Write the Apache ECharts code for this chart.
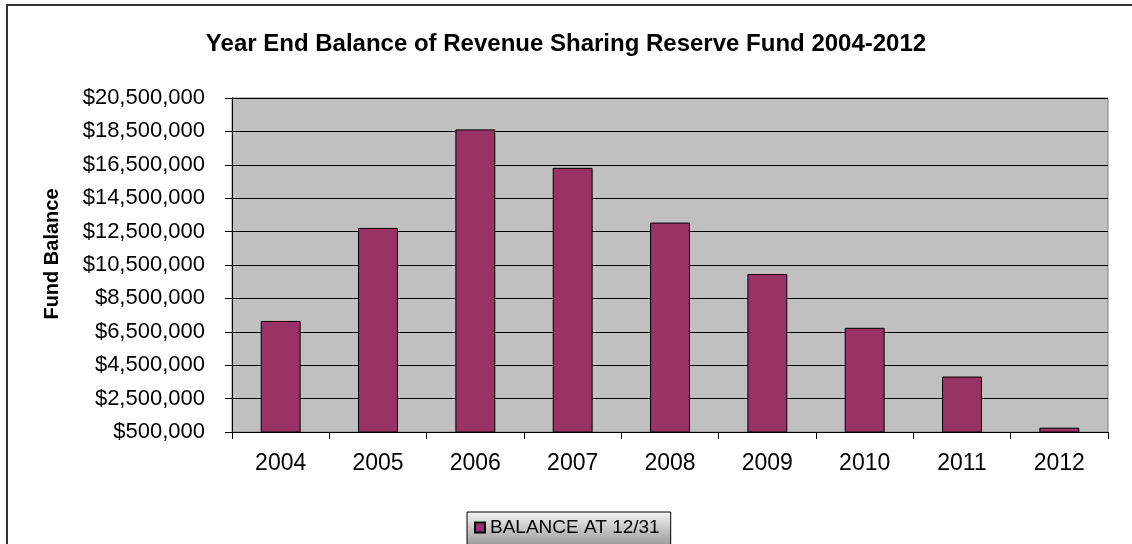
<!DOCTYPE html>
<html>
<head>
<meta charset="utf-8">
<script src="https://cdn.jsdelivr.net/npm/echarts@6/dist/echarts.min.js"></script>
<style>
  html, body { margin: 0; padding: 0; background: #fff; }
  #chart { width: 1132px; height: 544px; }
</style>
</head>
<body>
<div id="chart"></div>
<script>
// Year-end balances of the revenue sharing reserve fund
const years = ['2004', '2005', '2006', '2007', '2008', '2009', '2010', '2011', '2012'];
const balances = [7150000, 12720000, 18620000, 16320000, 13040000, 9960000, 6740000, 3820000, 760000];
const seriesName = 'BALANCE AT 12/31';
const yMin = 500000;
const yMax = 20500000;
const yStep = 2000000;

const FONT = '"Liberation Sans", Arial, sans-serif';

function money(v) {
  return '$' + Math.round(v).toString().replace(/\B(?=(\d{3})+(?!\d))/g, ',');
}

const chart = echarts.init(document.getElementById('chart'), null, { renderer: 'canvas' });

chart.setOption({
  animation: false,
  backgroundColor: '#ffffff',
  textStyle: { fontFamily: FONT },
  graphic: [{
    type: 'rect',
    silent: true,
    z: -10,
    shape: { x: 7, y: 5, width: 1300, height: 700 },
    style: { fill: 'none', stroke: '#333333', lineWidth: 2 }
  }],
  title: {
    text: 'Year End Balance of Revenue Sharing Reserve Fund 2004-2012',
    left: 'center',
    top: 27,
    textStyle: { fontFamily: FONT, fontSize: 24, fontWeight: 'bold', color: '#000' }
  },
  legend: {
    left: 467,
    top: 512,
    padding: [6, 11, 8, 7],
    itemWidth: 10,
    itemHeight: 10,
    icon: 'rect',
    borderColor: '#000',
    borderWidth: 1,
    backgroundColor: {
      type: 'linear', x: 0, y: 0, x2: 0, y2: 1,
      colorStops: [
        { offset: 0, color: '#f4f4f4' },
        { offset: 1, color: '#9a9a9a' }
      ]
    },
    textStyle: { fontFamily: FONT, fontSize: 19, color: '#000' },
    data: [seriesName]
  },
  grid: {
    left: 232,
    right: 24,
    top: 98,
    bottom: 112,
    show: true,
    backgroundColor: '#c0c0c0',
    borderColor: '#808080',
    borderWidth: 1
  },
  xAxis: {
    type: 'category',
    data: years,
    axisLine: { lineStyle: { color: '#000', width: 1 } },
    axisTick: { show: true, length: 7, lineStyle: { color: '#000' } },
    axisLabel: { margin: 20, fontFamily: FONT, fontSize: 23, color: '#000' },
    splitLine: { show: false }
  },
  yAxis: {
    type: 'value',
    min: yMin,
    max: yMax,
    interval: yStep,
    name: 'Fund Balance',
    nameLocation: 'middle',
    nameGap: 170,
    nameTextStyle: { fontFamily: FONT, fontSize: 20, fontWeight: 'bold', color: '#000', padding: [0, 0, 0, 22] },
    axisLine: { show: true, lineStyle: { color: '#000', width: 1 } },
    axisTick: { show: true, length: 7, lineStyle: { color: '#000' } },
    axisLabel: { margin: 27, fontFamily: FONT, fontSize: 22, color: '#000', formatter: money },
    splitLine: { show: true, lineStyle: { color: '#000', width: 1 } }
  },
  series: [{
    name: seriesName,
    type: 'bar',
    data: balances,
    barWidth: '41%',
    itemStyle: { color: '#993366', borderColor: '#000', borderWidth: 1 }
  }]
});
</script>
</body>
</html>
